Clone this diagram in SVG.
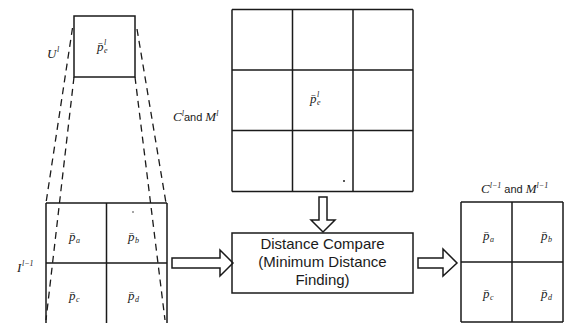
<svg xmlns="http://www.w3.org/2000/svg" width="584" height="323" viewBox="0 0 584 323">
<style>
.ln{stroke:#1a1a1a;stroke-width:1.5;fill:none}
.dash{stroke:#1a1a1a;stroke-width:1.3;fill:none;stroke-dasharray:7 5}
.blk{stroke:#1a1a1a;stroke-width:1.5;fill:#fff;stroke-linejoin:miter}
.m{font-family:"Liberation Serif","DejaVu Serif",serif;font-style:italic;font-size:13px;fill:#1a1a1a}
.s{font-size:8px}
.t{font-family:"Liberation Sans",Arial,sans-serif;font-size:15px;fill:#1a1a1a}
.a{font-family:"Liberation Sans",Arial,sans-serif;font-style:normal;font-size:11px}
</style>
<rect width="584" height="323" fill="#fff"/>
<g id="connectors">
<line class="dash" x1="72.5" y1="28" x2="46" y2="203"/>
<line class="dash" x1="74" y1="77" x2="46" y2="320"/>
<line class="dash" x1="137" y1="29" x2="166" y2="203"/>
<line class="dash" x1="135" y1="77" x2="165" y2="320"/>
<polygon id="arrow-left" class="blk" points="172,258 220,258 220,250 233,263 220,276 220,268 172,268"/>
<polygon id="arrow-down" class="blk" points="319,197 327,197 327,220 335,220 323,232 311,220 319,220"/>
<polygon id="arrow-right" class="blk" points="418,258 443,258 443,249 457,263 443,276 443,268 418,268"/>
</g>
<g id="node-Ul">
<rect class="ln" x="74" y="16" width="61" height="61"/>
<text class="m" x="97" y="51">p̄</text><text class="m s" x="104" y="45">l</text><text class="m s" x="104" y="53">e</text>
<text class="m" x="47" y="58">U</text><text class="m s" x="57" y="52">l</text>
</g>
<g id="node-I">
<path class="ln" d="M46,203 H167 M46,263 H167 M46,203 V323 M106.5,203 V323 M167,203 V323"/>
<text class="m" x="69" y="241">p̄</text><text class="m s" x="76" y="243">a</text>
<text class="m" x="128" y="241">p̄</text><text class="m s" x="135" y="243">b</text>
<text class="m" x="69" y="300">p̄</text><text class="m s" x="76" y="302">c</text>
<text class="m" x="128" y="300">p̄</text><text class="m s" x="135" y="302">d</text>
<text class="m" x="17" y="272">I</text><text class="m s" x="22" y="266">l−1</text>
<circle cx="133" cy="212" r="0.8" fill="#333"/>
</g>
<g id="node-CM">
<path class="ln" d="M232,9.5 H413 M232,70 H413 M232,130.5 H413 M232,191.5 H413 M232,9.5 V191.5 M292.5,9.5 V191.5 M353,9.5 V191.5 M413,9.5 V191.5"/>
<text class="m" x="310" y="103">p̄</text><text class="m s" x="317" y="97">l</text><text class="m s" x="317" y="105">e</text>
<text class="m" x="173" y="121">C<tspan class="s" dy="-5">l</tspan><tspan class="a" dy="5">and </tspan>M<tspan class="s" dy="-5">l</tspan></text>
<circle cx="344" cy="181" r="1" fill="#222"/>
</g>
<g id="node-distance">
<rect class="ln" x="232" y="233" width="181" height="60"/>
<text class="t" x="322.5" y="249" text-anchor="middle">Distance Compare</text>
<text class="t" x="322.5" y="267" text-anchor="middle">(Minimum Distance</text>
<text class="t" x="322.5" y="285" text-anchor="middle">Finding)</text>
</g>
<g id="node-CM1">
<path class="ln" d="M461,202 H563 M461,262 H563 M461,322 H563 M461,202 V322 M512,202 V322 M563,202 V322"/>
<text class="m" x="483" y="240">p̄</text><text class="m s" x="490" y="242">a</text>
<text class="m" x="541" y="240">p̄</text><text class="m s" x="548" y="242">b</text>
<text class="m" x="483" y="298">p̄</text><text class="m s" x="490" y="300">c</text>
<text class="m" x="541" y="298">p̄</text><text class="m s" x="548" y="300">d</text>
<text class="m" x="481" y="193">C<tspan class="s" dy="-5">l−1</tspan><tspan class="a" dy="5"> and </tspan>M<tspan class="s" dy="-5">l−1</tspan></text>
</g>
</svg>
